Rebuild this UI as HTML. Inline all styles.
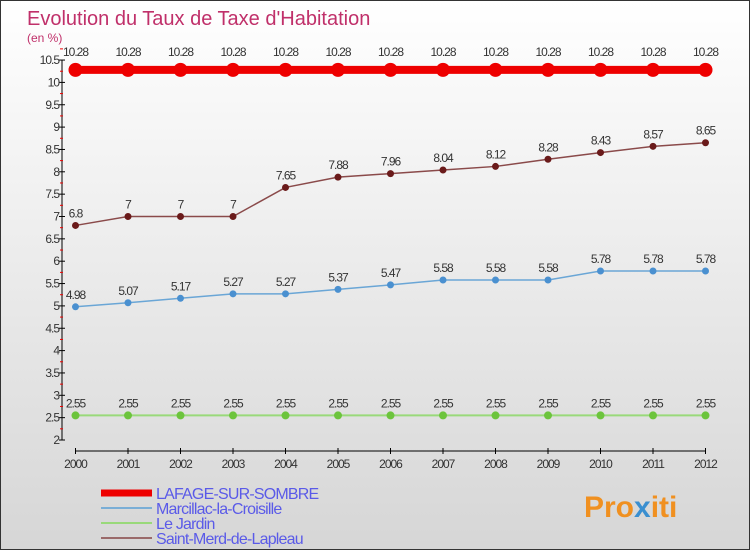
<!DOCTYPE html>
<html><head><meta charset="utf-8"><style>
body{margin:0;}
#wrap{width:748px;height:548px;border:1px solid #333;background:linear-gradient(#ffffff,#d6d6d6);position:relative;overflow:hidden;font-family:"Liberation Sans",sans-serif;}
svg text{font-family:"Liberation Sans",sans-serif;}
</style></head><body>
<div id="wrap">
<svg id="chart" width="748" height="548">
<text x="26" y="24" font-size="20" fill="#c0306a">Evolution du Taux de Taxe d'Habitation</text>
<text x="26" y="41" font-size="12" fill="#c0306a">(en %)</text>
<g id="axes"></g>
<g id="series"></g>
<g id="legend"></g>
<text x="583" y="516" font-size="30" font-weight="bold" fill="#f09020">Pro<tspan fill="#3a8fd0">x</tspan><tspan fill="#f09020">iti</tspan></text>
</svg>
</div>
<script>
const years=["2000","2001","2002","2003","2004","2005","2006","2007","2008","2009","2010","2011","2012"];
const lafage=[10.28,10.28,10.28,10.28,10.28,10.28,10.28,10.28,10.28,10.28,10.28,10.28,10.28];
const marcillac=[4.98,5.07,5.17,5.27,5.27,5.37,5.47,5.58,5.58,5.58,5.78,5.78,5.78];
const jardin=[2.55,2.55,2.55,2.55,2.55,2.55,2.55,2.55,2.55,2.55,2.55,2.55,2.55];
const saintMerd=[6.8,7,7,7,7.65,7.88,7.96,8.04,8.12,8.28,8.43,8.57,8.65];
const yTicks=[2,2.5,3,3.5,4,4.5,5,5.5,6,6.5,7,7.5,8,8.5,9,9.5,10,10.5];
const seriesNames=["LAFAGE-SUR-SOMBRE","Marcillac-la-Croisille","Le Jardin","Saint-Merd-de-Lapleau"];

const NS="http://www.w3.org/2000/svg";
const X0=74.5,XS=52.5,Y0=439,YMIN=2,YPU=44.7;
const xp=i=>X0+i*XS;
const yp=v=>Y0-(v-YMIN)*YPU;
function mk(tag,attrs,parent){const e=document.createElementNS(NS,tag);for(const k in attrs)e.setAttribute(k,attrs[k]);parent.appendChild(e);return e;}
const ax=document.getElementById('axes');
let l=mk('line',{x1:61,y1:yp(10.5),x2:61,y2:Y0,stroke:'#000','stroke-width':1},ax);


yTicks.forEach(v=>{
  let t=mk('line',{x1:58,y1:yp(v),x2:64,y2:yp(v),stroke:'#000'},ax);
  
  
  let m=mk('line',{x1:59,y1:yp(v+0.25),x2:62,y2:yp(v+0.25),stroke:'#e00'},ax);
  
  
  let tx=mk('text',{x:58,y:yp(v)+4,'font-size':12,fill:'#333','text-anchor':'end','letter-spacing':'-1'},ax);
  tx.textContent=String(v);
  
  
});
let xa=mk('line',{x1:X0,y1:450,x2:xp(12),y2:450,stroke:'#000'},ax);


years.forEach((y,i)=>{
  let t=mk('line',{x1:xp(i),y1:447,x2:xp(i),y2:453,stroke:'#000'},ax);
  
  
  let tx=mk('text',{x:xp(i),y:467,'font-size':12,fill:'#333','text-anchor':'middle','letter-spacing':'-1'},ax);
  tx.textContent=y;
  
  
});
const sg=document.getElementById('series');
function drawSeries(vals,color,width,r,fill,name){
  const g=mk('g',{},sg);
  
  
  let p=mk('polyline',{points:vals.map((v,i)=>xp(i)+','+yp(v)).join(' '),fill:'none',stroke:color,'stroke-width':width},g);
  
  
  vals.forEach((v,i)=>{
    let c=mk('circle',{cx:xp(i),cy:yp(v),r:r,fill:fill},g);
    
    
    let t=mk('text',{x:xp(i),y:yp(v)-8-(r>5?6:0),'font-size':12,fill:'#333','text-anchor':'middle','letter-spacing':'-1'},g);
    t.textContent=String(v);
    
    
  });
}
drawSeries(jardin,'#99d97a',2,4,'#6cc43c','le-jardin-series');
drawSeries(marcillac,'#6aa6d6',1.5,3.5,'#4a90d0','marcillac-series');
drawSeries(saintMerd,'#8a4a4a',1.5,3.5,'#6a1a1a','saint-merd-series');
drawSeries(lafage,'#ee0000',8,7,'#ee0000','lafage-series');
const lg=document.getElementById('legend');
const lcol=['#ee0000','#7aaed6','#99d97a','#9a6a6a'];
const lw=[7,2,2,2];
seriesNames.forEach((n,i)=>{
  const y=492+i*15;
  let ln=mk('line',{x1:100,y1:y,x2:151,y2:y,stroke:lcol[i],'stroke-width':lw[i]},lg);
  
  
  let t=mk('text',{x:155,y:y+6,'font-size':16,fill:'#5a5ae8','letter-spacing':'-0.8'},lg);
  t.textContent=n;
  
  
});
</script>
</body></html>
